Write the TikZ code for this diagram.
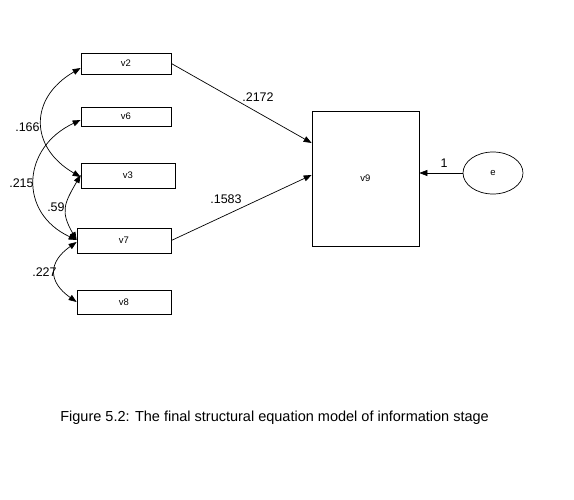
\documentclass[tikz,border=0pt]{standalone}
\usepackage{fontspec}
\setmainfont{Liberation Sans}
\usetikzlibrary{arrows.meta,shapes.geometric}

\tikzset{
	obsbox/.style={draw, rectangle, inner sep=0pt, font=\fontsize{9.5}{10}\selectfont},
	path/.style={-{Triangle[length=8pt,width=6pt]}, line width=0.7pt},
	covar/.style={{Triangle[length=8pt,width=6pt]}-{Triangle[length=8pt,width=6pt]}, line width=0.7pt},
	coef/.style={inner sep=0pt, font=\fontsize{12.5}{13}\selectfont}
}

\begin{document}
\begin{tikzpicture}[x=1pt, y=-1pt, line width=0.7pt]
			%%%%% START %%%%%
			\useasboundingbox (0, 0) rectangle (574, 500);
			
			% observed variables
			\node[obsbox, minimum width=90pt, minimum height=21pt] (v2) at (126, 63.5) {v2};
			\node[obsbox, minimum width=90pt, minimum height=19pt] (v6) at (126, 116.5) {v6};
			\node[obsbox, minimum width=94pt, minimum height=25pt] (v3) at (128, 175.5) {v3};
			\node[obsbox, minimum width=94pt, minimum height=25pt] (v7) at (124, 240.5) {v7};
			\node[obsbox, minimum width=94pt, minimum height=24pt] (v8) at (124, 302) {v8};
			
			\node[obsbox, minimum width=107pt, minimum height=135pt] (v9) at (365.5, 178.5) {v9};
			\node[draw, ellipse, inner sep=0pt, minimum width=60pt, minimum height=42pt, font=\fontsize{9.5}{10}\selectfont] (e) at (493, 173) {e};
			
			% regression paths
			\draw[path] (v2.east) -- ([yshift=35.5pt]v9.west);
			\draw[path] (v7.east) -- ([yshift=3.5pt]v9.west);
			\draw[path] (e.west) -- (v9.east |- e.west);
			
			% covariances
			\draw[covar] ([yshift=-4.5pt]v2.west) to[out=210, in=150, looseness=1.4] ([yshift=-1.5pt]v3.west);
			\draw[covar] ([yshift=-3.5pt]v6.west) to[out=205, in=155, looseness=1.38] ([yshift=0.5pt]v7.west);
			\draw[covar] ([yshift=0.5pt]v3.west) to[out=240, in=120, looseness=1.3] ([yshift=0.5pt]v7.west);
			\draw[covar] ([yshift=-1.5pt]v7.west) to[out=215, in=145, looseness=1.5] (v8.west);
			
			% coefficients
			\node[coef] (c2172) at (258, 97) {.2172};
			\node[coef] (c1583) at (226, 199) {.1583};
			\node[coef] (cone) at (444, 163) {1};
			\node[coef, anchor=east] (c166) at (40, 127) {.166};
			\node[coef, anchor=east] (c215) at (34, 183.5) {.215};
			\node[coef, anchor=east] (c59) at (65, 207) {.59};
			\node[coef, anchor=east] (c227) at (57, 272) {.227};
			
			% caption
			\node[anchor=west, inner sep=0pt, font=\fontsize{14.5}{16}\selectfont] (caption) at (60, 418) {Figure 5.2: The final structural equation model of information stage};
			%%%%% END %%%%%
\end{tikzpicture}
\end{document}
